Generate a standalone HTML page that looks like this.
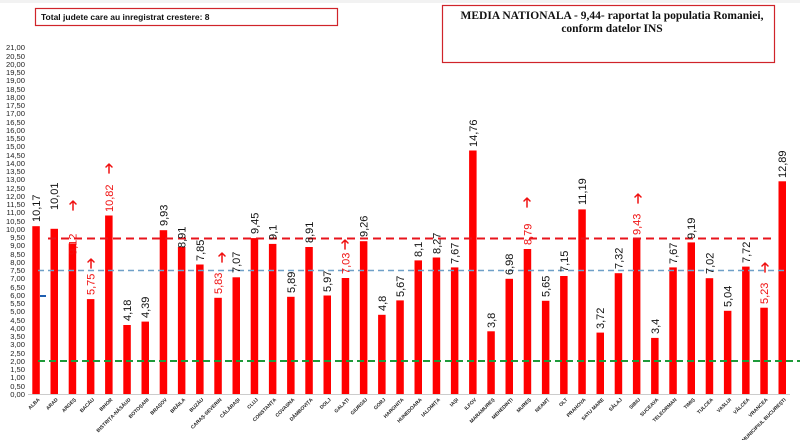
<!DOCTYPE html>
<html><head><meta charset="utf-8"><style>
body{margin:0;background:#fff;}
svg{display:block;font-family:"Liberation Sans",sans-serif;}
.yt{font-size:7.6px;text-anchor:end;fill:#222;}
.bl{font-size:11px;fill:#111;}
.rl{font-size:11px;fill:#f01010;}
.xl{font-size:5px;fill:#222;text-anchor:end;font-weight:bold;}
</style></head><body>
<svg width="800" height="440" viewBox="0 0 800 440">
<rect x="0" y="0" width="800" height="440" fill="#fff"/>
<rect x="0" y="0" width="800" height="3" fill="#f2f2f2"/>
<rect x="35.5" y="8.5" width="302" height="17" fill="#fff" stroke="#d0242a" stroke-width="1.2"/>
<text x="41" y="20" font-size="8.5" font-weight="bold" fill="#111">Total judete care au inregistrat crestere: 8</text>
<rect x="442.5" y="5.5" width="332" height="57" fill="#fff" stroke="#d0242a" stroke-width="1.2"/>
<text x="612" y="19" font-size="11.5" font-weight="bold" text-anchor="middle" font-family="Liberation Serif,serif" fill="#111">MEDIA NATIONALA - 9,44-  raportat la populatia Romaniei,</text>
<text x="612" y="32" font-size="11.5" font-weight="bold" text-anchor="middle" font-family="Liberation Serif,serif" fill="#111">conform datelor INS</text>
<g class="yt">
<text x="25" y="397">0,00</text><text x="25" y="389">0,50</text><text x="25" y="380">1,00</text><text x="25" y="372">1,50</text><text x="25" y="364">2,00</text><text x="25" y="356">2,50</text><text x="25" y="347">3,00</text><text x="25" y="339">3,50</text><text x="25" y="331">4,00</text><text x="25" y="323">4,50</text><text x="25" y="314">5,00</text><text x="25" y="306">5,50</text><text x="25" y="298">6,00</text><text x="25" y="290">6,50</text><text x="25" y="281">7,00</text><text x="25" y="273">7,50</text><text x="25" y="265">8,00</text><text x="25" y="257">8,50</text><text x="25" y="248">9,00</text><text x="25" y="240">9,50</text><text x="25" y="232">10,00</text><text x="25" y="224">10,50</text><text x="25" y="215">11,00</text><text x="25" y="207">11,50</text><text x="25" y="199">12,00</text><text x="25" y="191">12,50</text><text x="25" y="182">13,00</text><text x="25" y="174">13,50</text><text x="25" y="166">14,00</text><text x="25" y="158">14,50</text><text x="25" y="149">15,00</text><text x="25" y="141">15,50</text><text x="25" y="133">16,00</text><text x="25" y="125">16,50</text><text x="25" y="116">17,00</text><text x="25" y="108">17,50</text><text x="25" y="100">18,00</text><text x="25" y="92">18,50</text><text x="25" y="83">19,00</text><text x="25" y="75">19,50</text><text x="25" y="67">20,00</text><text x="25" y="59">20,50</text><text x="25" y="50">21,00</text>
</g>
<line x1="28" y1="394.5" x2="790" y2="394.5" stroke="#ccc" stroke-width="1"/>
<g fill="#ff0000">
<rect x="32.3" y="226.2" width="7.5" height="167.8"/><rect x="50.5" y="228.8" width="7.5" height="165.2"/><rect x="68.7" y="243.5" width="7.5" height="150.5"/><rect x="86.9" y="299.1" width="7.5" height="94.9"/><rect x="105.1" y="215.5" width="7.5" height="178.5"/><rect x="123.3" y="325" width="7.5" height="69"/><rect x="141.5" y="321.6" width="7.5" height="72.4"/><rect x="159.7" y="230.2" width="7.5" height="163.8"/><rect x="177.9" y="247" width="7.5" height="147"/><rect x="196.1" y="264.5" width="7.5" height="129.5"/><rect x="214.3" y="297.8" width="7.5" height="96.2"/><rect x="232.5" y="277.3" width="7.5" height="116.7"/><rect x="250.7" y="238.1" width="7.5" height="155.9"/><rect x="268.9" y="243.9" width="7.5" height="150.1"/><rect x="287.1" y="296.8" width="7.5" height="97.2"/><rect x="305.3" y="247" width="7.5" height="147"/><rect x="323.5" y="295.5" width="7.5" height="98.5"/><rect x="341.7" y="278" width="7.5" height="116"/><rect x="359.9" y="241.2" width="7.5" height="152.8"/><rect x="378.1" y="314.8" width="7.5" height="79.2"/><rect x="396.3" y="300.4" width="7.5" height="93.6"/><rect x="414.5" y="260.4" width="7.5" height="133.6"/><rect x="432.7" y="257.5" width="7.5" height="136.5"/><rect x="450.9" y="267.4" width="7.5" height="126.6"/><rect x="469.1" y="150.5" width="7.5" height="243.5"/><rect x="487.3" y="331.3" width="7.5" height="62.7"/><rect x="505.5" y="278.8" width="7.5" height="115.2"/><rect x="523.7" y="249" width="7.5" height="145"/><rect x="541.9" y="300.8" width="7.5" height="93.2"/><rect x="560.1" y="276" width="7.5" height="118"/><rect x="578.3" y="209.4" width="7.5" height="184.6"/><rect x="596.5" y="332.6" width="7.5" height="61.4"/><rect x="614.7" y="273.2" width="7.5" height="120.8"/><rect x="632.9" y="238.4" width="7.5" height="155.6"/><rect x="651.1" y="337.9" width="7.5" height="56.1"/><rect x="669.3" y="267.4" width="7.5" height="126.6"/><rect x="687.5" y="242.4" width="7.5" height="151.6"/><rect x="705.7" y="278.2" width="7.5" height="115.8"/><rect x="723.9" y="310.8" width="7.5" height="83.2"/><rect x="742.1" y="266.6" width="7.5" height="127.4"/><rect x="760.3" y="307.7" width="7.5" height="86.3"/><rect x="778.5" y="181.3" width="7.5" height="212.7"/>
</g>
<line x1="48" y1="238.5" x2="776" y2="238.5" stroke="#e8141c" stroke-width="2" stroke-dasharray="8,5"/>
<line x1="38" y1="270.5" x2="785" y2="270.5" stroke="#6fa0c8" stroke-width="1.5" stroke-dasharray="6,4"/>
<line x1="38" y1="361" x2="800" y2="361" stroke="#1f9a3a" stroke-width="2" stroke-dasharray="7,4"/>
<line x1="40" y1="296" x2="46" y2="296" stroke="#1f5fb0" stroke-width="2"/>
<g>
<text class="bl" transform="translate(40,222) rotate(-90)">10,17</text>
<text class="bl" transform="translate(58.2,210) rotate(-90)">10,01</text>
<text class="rl" transform="translate(76.4,255) rotate(-90)">9,12</text>
<text class="rl" transform="translate(94.6,295) rotate(-90)">5,75</text>
<text class="rl" transform="translate(112.8,212) rotate(-90)">10,82</text>
<text class="bl" transform="translate(131,321) rotate(-90)">4,18</text>
<text class="bl" transform="translate(149.2,318) rotate(-90)">4,39</text>
<text class="bl" transform="translate(167.4,226) rotate(-90)">9,93</text>
<text class="bl" transform="translate(185.6,248) rotate(-90)">8,91</text>
<text class="bl" transform="translate(203.8,261) rotate(-90)">7,85</text>
<text class="rl" transform="translate(222,294) rotate(-90)">5,83</text>
<text class="bl" transform="translate(240.2,273) rotate(-90)">7,07</text>
<text class="bl" transform="translate(258.4,234) rotate(-90)">9,45</text>
<text class="bl" transform="translate(276.6,240) rotate(-90)">9,1</text>
<text class="bl" transform="translate(294.8,293) rotate(-90)">5,89</text>
<text class="bl" transform="translate(313,243) rotate(-90)">8,91</text>
<text class="bl" transform="translate(331.2,292) rotate(-90)">5,97</text>
<text class="rl" transform="translate(349.4,274) rotate(-90)">7,03</text>
<text class="bl" transform="translate(367.6,237) rotate(-90)">9,26</text>
<text class="bl" transform="translate(385.8,311) rotate(-90)">4,8</text>
<text class="bl" transform="translate(404,297) rotate(-90)">5,67</text>
<text class="bl" transform="translate(422.2,257) rotate(-90)">8,1</text>
<text class="bl" transform="translate(440.4,254) rotate(-90)">8,27</text>
<text class="bl" transform="translate(458.6,264) rotate(-90)">7,67</text>
<text class="bl" transform="translate(476.8,147) rotate(-90)">14,76</text>
<text class="bl" transform="translate(495,328) rotate(-90)">3,8</text>
<text class="bl" transform="translate(513.2,275) rotate(-90)">6,98</text>
<text class="rl" transform="translate(531.4,245) rotate(-90)">8,79</text>
<text class="bl" transform="translate(549.6,297) rotate(-90)">5,65</text>
<text class="bl" transform="translate(567.8,272) rotate(-90)">7,15</text>
<text class="bl" transform="translate(586,205) rotate(-90)">11,19</text>
<text class="bl" transform="translate(604.2,329) rotate(-90)">3,72</text>
<text class="bl" transform="translate(622.4,269) rotate(-90)">7,32</text>
<text class="rl" transform="translate(640.6,235) rotate(-90)">9,43</text>
<text class="bl" transform="translate(658.8,334) rotate(-90)">3,4</text>
<text class="bl" transform="translate(677,264) rotate(-90)">7,67</text>
<text class="bl" transform="translate(695.2,239) rotate(-90)">9,19</text>
<text class="bl" transform="translate(713.4,274) rotate(-90)">7,02</text>
<text class="bl" transform="translate(731.6,307) rotate(-90)">5,04</text>
<text class="bl" transform="translate(749.8,263) rotate(-90)">7,72</text>
<text class="rl" transform="translate(768,304) rotate(-90)">5,23</text>
<text class="bl" transform="translate(786.2,178) rotate(-90)">12,89</text>
</g>
<g stroke="#f01010" stroke-width="1.5" fill="none" stroke-linecap="round">
<path d="M73 210v-9M70 204l3-3 3 3"/>
<path d="M91 268v-9M88 262l3-3 3 3"/>
<path d="M109 173v-9M106 167l3-3 3 3"/>
<path d="M222 262v-9M219 256l3-3 3 3"/>
<path d="M345 249v-9M342 243l3-3 3 3"/>
<path d="M527 207v-9M524 201l3-3 3 3"/>
<path d="M638 203v-9M635 197l3-3 3 3"/>
<path d="M765 272v-9M762 266l3-3 3 3"/>
</g>
<g class="xl">
<text transform="translate(40,400) rotate(-45)">ALBA</text>
<text transform="translate(58.2,400) rotate(-45)">ARAD</text>
<text transform="translate(76.4,400) rotate(-45)">ARGEȘ</text>
<text transform="translate(94.6,400) rotate(-45)">BACĂU</text>
<text transform="translate(112.8,400) rotate(-45)">BIHOR</text>
<text transform="translate(131,400) rotate(-45)">BISTRIȚA-NĂSĂUD</text>
<text transform="translate(149.2,400) rotate(-45)">BOTOȘANI</text>
<text transform="translate(167.4,400) rotate(-45)">BRAȘOV</text>
<text transform="translate(185.6,400) rotate(-45)">BRĂILA</text>
<text transform="translate(203.8,400) rotate(-45)">BUZĂU</text>
<text transform="translate(222,400) rotate(-45)">CARAȘ-SEVERIN</text>
<text transform="translate(240.2,400) rotate(-45)">CĂLĂRAȘI</text>
<text transform="translate(258.4,400) rotate(-45)">CLUJ</text>
<text transform="translate(276.6,400) rotate(-45)">CONSTANȚA</text>
<text transform="translate(294.8,400) rotate(-45)">COVASNA</text>
<text transform="translate(313,400) rotate(-45)">DÂMBOVIȚA</text>
<text transform="translate(331.2,400) rotate(-45)">DOLJ</text>
<text transform="translate(349.4,400) rotate(-45)">GALAȚI</text>
<text transform="translate(367.6,400) rotate(-45)">GIURGIU</text>
<text transform="translate(385.8,400) rotate(-45)">GORJ</text>
<text transform="translate(404,400) rotate(-45)">HARGHITA</text>
<text transform="translate(422.2,400) rotate(-45)">HUNEDOARA</text>
<text transform="translate(440.4,400) rotate(-45)">IALOMIȚA</text>
<text transform="translate(458.6,400) rotate(-45)">IAȘI</text>
<text transform="translate(476.8,400) rotate(-45)">ILFOV</text>
<text transform="translate(495,400) rotate(-45)">MARAMUREȘ</text>
<text transform="translate(513.2,400) rotate(-45)">MEHEDINȚI</text>
<text transform="translate(531.4,400) rotate(-45)">MUREȘ</text>
<text transform="translate(549.6,400) rotate(-45)">NEAMȚ</text>
<text transform="translate(567.8,400) rotate(-45)">OLT</text>
<text transform="translate(586,400) rotate(-45)">PRAHOVA</text>
<text transform="translate(604.2,400) rotate(-45)">SATU MARE</text>
<text transform="translate(622.4,400) rotate(-45)">SĂLAJ</text>
<text transform="translate(640.6,400) rotate(-45)">SIBIU</text>
<text transform="translate(658.8,400) rotate(-45)">SUCEAVA</text>
<text transform="translate(677,400) rotate(-45)">TELEORMAN</text>
<text transform="translate(695.2,400) rotate(-45)">TIMIȘ</text>
<text transform="translate(713.4,400) rotate(-45)">TULCEA</text>
<text transform="translate(731.6,400) rotate(-45)">VASLUI</text>
<text transform="translate(749.8,400) rotate(-45)">VÂLCEA</text>
<text transform="translate(768,400) rotate(-45)">VRANCEA</text>
<text transform="translate(786.2,400) rotate(-45)">MUNICIPIUL BUCUREȘTI</text>
</g>
</svg>
</body></html>
